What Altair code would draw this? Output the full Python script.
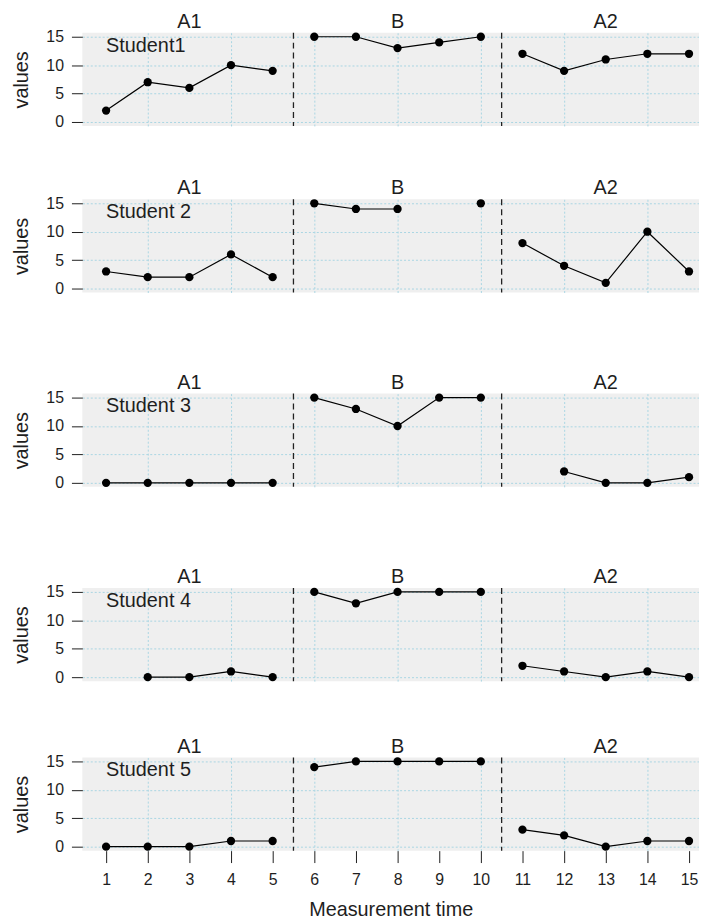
import altair as alt
import pandas as pd

# ---------------- data ----------------
times = list(range(1, 16))
phases = ["A1"] * 5 + ["B"] * 5 + ["A2"] * 5
phase_order = ["A1", "B", "A2"]
students = ["Student1", "Student 2", "Student 3", "Student 4", "Student 5"]
s1 = [2, 7, 6, 10, 9, 15, 15, 13, 14, 15, 12, 9, 11, 12, 12]
s2 = [3, 2, 2, 6, 2, 15, 14, 14, None, 15, 8, 4, 1, 10, 3]
s3 = [0, 0, 0, 0, 0, 15, 13, 10, 15, 15, None, 2, 0, 0, 1]
s4 = [None, 0, 0, 1, 0, 15, 13, 15, 15, 15, 2, 1, 0, 1, 0]
s5 = [0, 0, 0, 1, 1, 14, 15, 15, 15, 15, 3, 2, 0, 1, 1]
all_values = [s1, s2, s3, s4, s5]
y_ticks = [0, 5, 10, 15]
grid_step = 2

# ---------------- style ----------------
FONT = "Liberation Sans"
TXT = "#1e1e1e"
GRID = "#a9d6e3"
BG = "#efefef"
W, H = 622, 94
xs = alt.Scale(domain=[0.43, 15.24], nice=False, zero=False)
ys = alt.Scale(domain=[-0.7, 15.7], nice=False, zero=False)

# phase centres and boundaries derived from the time/phase arrays
pt = pd.DataFrame({"time": times, "phase": phases})
centers = pt.groupby("phase", sort=False)["time"].mean().reset_index()
bounds = []
for a, b in zip(phase_order[:-1], phase_order[1:]):
    bounds.append((pt[pt.phase == a].time.max() + pt[pt.phase == b].time.min()) / 2)
breaks = pd.DataFrame({"time": bounds})


def panel(name, vals, last):
    rows = []
    seg = 0
    prev = None
    for t, ph, v in zip(times, phases, vals):
        if ph != prev:
            seg += 1
            prev = ph
        if v is None:
            seg += 1
            continue
        rows.append({"time": t, "phase": ph, "value": v, "seg": seg})
    df = pd.DataFrame(rows)

    xaxis = alt.Axis(
        values=times,
        title="Measurement time" if last else None,
        labels=last,
        ticks=last,
        domain=False,
        grid=True,
        gridColor=GRID,
        gridDash=[2, 2],
        gridWidth=1,
        gridOpacity={"condition": {"test": f"datum.value % {grid_step} === 0", "value": 1}, "value": 0},
        tickSize=12,
        tickColor=TXT,
        tickWidth=1,
        labelPadding=9,
        labelFontSize=16,
        labelColor=TXT,
        labelFont=FONT,
        titleFontSize=20,
        titleFontWeight="normal",
        titleFont=FONT,
        titleColor=TXT,
        titleBaseline="alphabetic",
        titleY=65,
    )
    yaxis = alt.Axis(
        values=y_ticks,
        title="values",
        domain=False,
        grid=True,
        gridColor=GRID,
        gridDash=[2, 2],
        gridWidth=1,
        tickSize=11,
        tickColor=TXT,
        tickWidth=1,
        labelPadding=8,
        labelFontSize=16,
        labelColor=TXT,
        labelFont=FONT,
        titleFontSize=20,
        titleFontWeight="normal",
        titleFont=FONT,
        titleColor=TXT,
        titleAngle=270,
        titleAlign="center",
        titleBaseline="middle",
        titleX=-61,
        titleY=H / 2,
    )
    X = alt.X("time:Q", scale=xs, axis=xaxis)
    Y = alt.Y("value:Q", scale=ys, axis=yaxis)

    base = alt.Chart(df)
    line = base.mark_line(color="black", strokeWidth=1.2).encode(x=X, y=Y, detail="seg:N")
    pts = base.mark_circle(color="black", size=70, opacity=1).encode(x=X, y=Y)
    rules = alt.Chart(breaks).mark_rule(color="#222222", strokeDash=[6, 4], strokeWidth=1.3).encode(x=X)
    plabels = alt.Chart(centers).mark_text(
        fontSize=20, font=FONT, color=TXT, baseline="alphabetic", align="center"
    ).encode(x=X, y=alt.value(-5), text="phase:N")
    slabel = alt.Chart(pd.DataFrame({"time": [min(times)], "name": [name]})).mark_text(
        fontSize=20, font=FONT, color=TXT, baseline="middle", align="left"
    ).encode(x=X, y=alt.value(13), text="name:N")
    return alt.layer(rules, line, pts, plabels, slabel).properties(
        width=W, height=H, view=alt.ViewBackground(fill=BG, strokeWidth=0)
    )


p = [panel(n, v, i == len(students) - 1) for i, (n, v) in enumerate(zip(students, all_values))]

T = 23
top_pair = alt.vconcat(p[0], p[1], spacing=166 - H - T)
bottom_pair = alt.vconcat(p[3], p[4], spacing=169 - H - T)
chart = alt.vconcat(top_pair, p[2], bottom_pair, spacing=194 - H - T).properties(
    padding={"left": 4, "top": 0, "right": 0, "bottom": 0}
).configure(font=FONT).configure_view(fill=BG, strokeWidth=0)

chart.save("out.html", embed_options={"renderer": "svg", "actions": False})
